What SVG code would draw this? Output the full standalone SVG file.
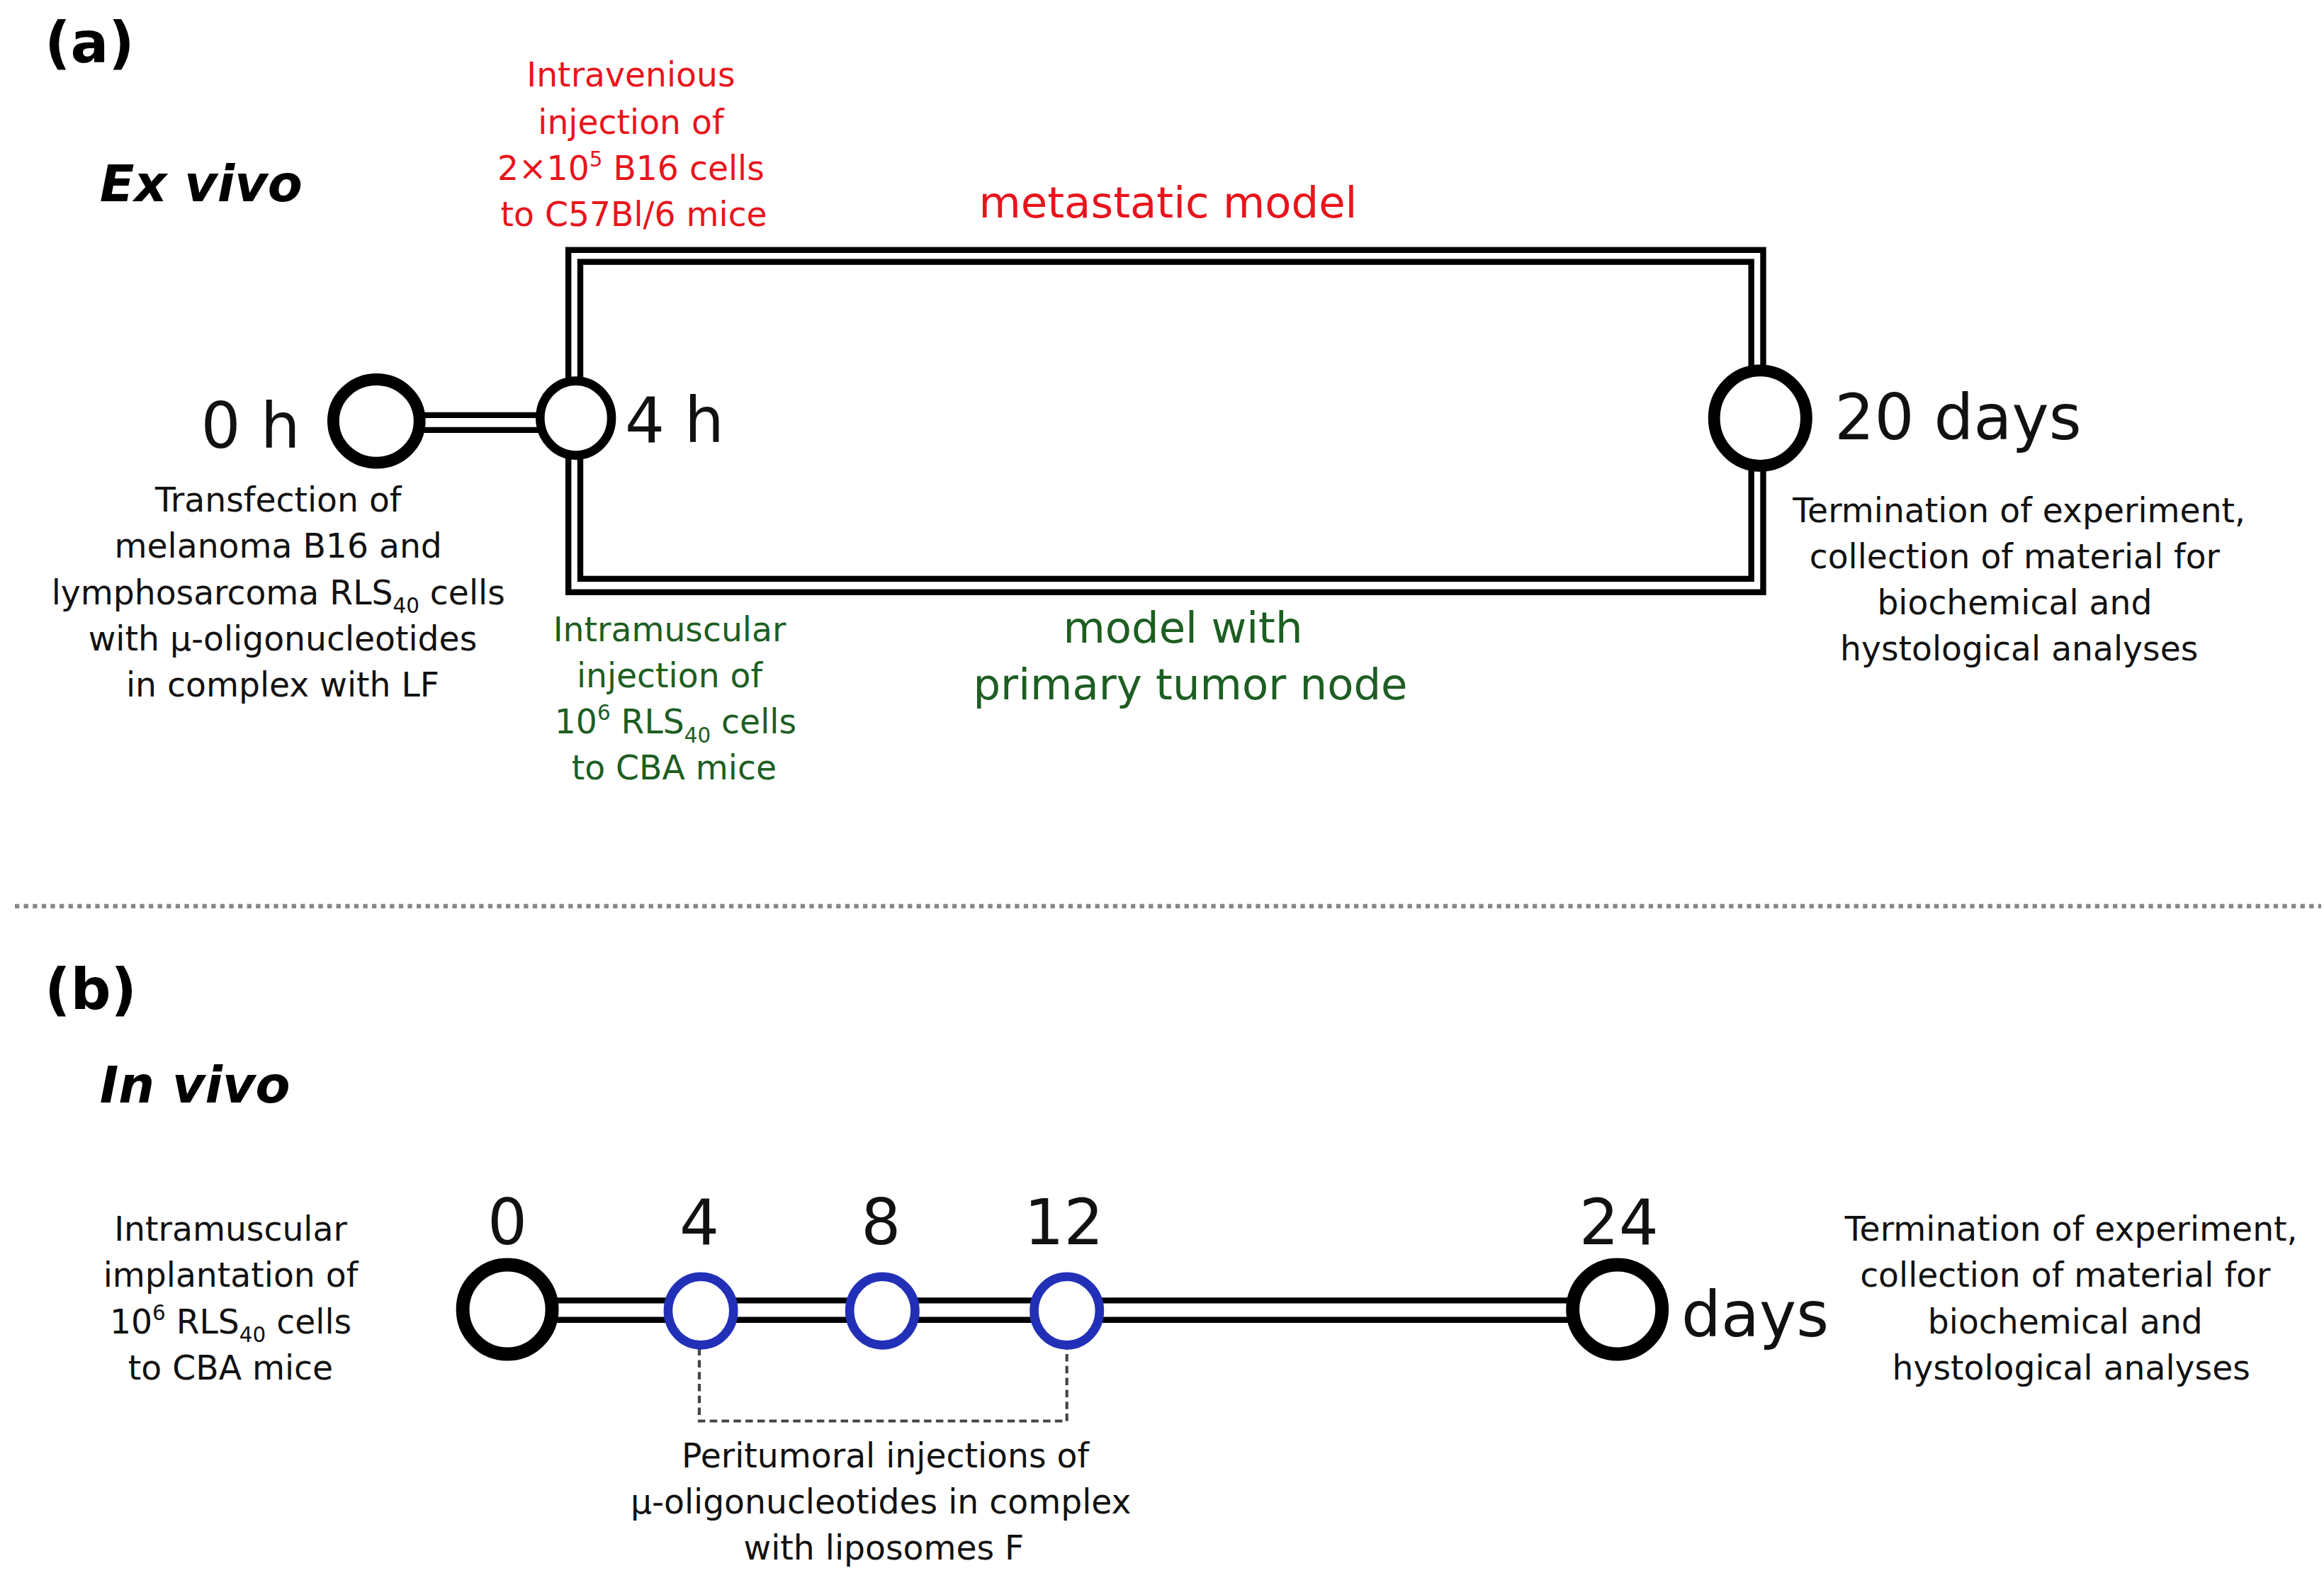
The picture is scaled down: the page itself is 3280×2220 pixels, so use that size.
<svg xmlns="http://www.w3.org/2000/svg" width="3280" height="2220" viewBox="0 0 3280 2220">
<style>
text{font-family:"DejaVu Sans","Liberation Sans",Arial,sans-serif}
.s{font-size:22.5px;text-anchor:middle}
.k{fill:#111}.r{fill:#e8141c}.g{fill:#1d5e22}
.big{font-size:42px}
.lab{font-size:38px;font-weight:bold}
.ti{font-size:34px;font-weight:bold;font-style:italic}
.ln{fill:none;stroke:#000;stroke-width:4}
.c{fill:#fff;stroke:#000}
.b{fill:#fff;stroke:#2230b8;stroke-width:6}
</style>
<rect width="3280" height="2220" fill="#fff"/>
<g transform="scale(2.1)">
<g id="connectors">
<rect class="ln" x="382" y="168" width="803" height="230"/>
<rect class="ln" x="390" y="176" width="787" height="213"/>
<line class="ln" x1="280" y1="279" x2="362" y2="279"/>
<line class="ln" x1="280" y1="289" x2="362" y2="289"/>
<line class="ln" x1="370" y1="874" x2="1060" y2="874"/>
<line class="ln" x1="370" y1="887" x2="1060" y2="887"/>
<path d="M470 906V955H717V906" fill="none" stroke="#444" stroke-width="2" stroke-dasharray="5,3"/>
<line x1="10" y1="609" x2="1560" y2="609" stroke="#888" stroke-width="3" stroke-dasharray="3,3"/>
</g>
<g id="labels">
<text x="30" y="42" class="lab">(a)</text>
<text x="67" y="135" class="ti">Ex vivo</text>
<text x="30" y="678" class="lab">(b)</text>
<text x="67" y="741" class="ti">In vivo</text>
</g>
<g id="n0h"><ellipse class="c" cx="253" cy="283" rx="29" ry="28" stroke-width="8"/><text x="135" y="301" class="big k">0 h</text>
<text class="s k" x="187" y="344">Transfection of</text><text class="s k" x="187" y="375">melanoma B16 and</text><text class="s k" x="187" y="406">lymphosarcoma RLS<tspan font-size="14" dy="6">40</tspan><tspan dy="-6"> cells</tspan></text><text class="s k" x="190" y="437">with μ-oligonucleotides</text><text class="s k" x="190" y="468">in complex with LF</text></g>
<g id="n4h"><ellipse class="c" cx="387" cy="281" rx="24" ry="25" stroke-width="6"/><text x="420" y="297" class="big k">4 h</text>
<text class="s r" x="424" y="58">Intravenious</text><text class="s r" x="424" y="90">injection of</text><text class="s r" x="424" y="121">2×10<tspan font-size="14" dy="-9">5</tspan><tspan dy="9"> B16 cells</tspan></text><text class="s r" x="426" y="152">to C57Bl/6 mice</text>
<text class="s g" x="450" y="431">Intramuscular</text><text class="s g" x="450" y="462">injection of</text><text class="s g" x="454" y="493">10<tspan font-size="14" dy="-9">6</tspan><tspan dy="9"> RLS</tspan><tspan font-size="14" dy="6">40</tspan><tspan dy="-6"> cells</tspan></text><text class="s g" x="453" y="524">to CBA mice</text></g>
<g id="models"><text x="785" y="146" font-size="29" text-anchor="middle" class="r">metastatic model</text>
<text x="795" y="432" font-size="29" text-anchor="middle" class="g">model with</text><text x="800" y="470" font-size="29" text-anchor="middle" class="g">primary tumor node</text></g>
<g id="n20d"><ellipse class="c" cx="1183" cy="281" rx="31" ry="32" stroke-width="8"/><text x="1233" y="295" class="big k">20 days</text>
<text class="s k" x="1357" y="351">Termination of experiment,</text><text class="s k" x="1354" y="382">collection of material for</text><text class="s k" x="1354" y="413">biochemical and</text><text class="s k" x="1357" y="444">hystological analyses</text></g>
<g id="d0"><ellipse class="c" cx="341" cy="880" rx="30" ry="30" stroke-width="9"/><text x="341" y="836" class="big k" text-anchor="middle">0</text>
<text class="s k" x="155" y="834">Intramuscular</text><text class="s k" x="155" y="865">implantation of</text><text class="s k" x="155" y="896">10<tspan font-size="14" dy="-9">6</tspan><tspan dy="9">  RLS</tspan><tspan font-size="14" dy="6">40</tspan><tspan dy="-6"> cells</tspan></text><text class="s k" x="155" y="927">to CBA mice</text></g>
<g id="d4"><ellipse class="b" cx="471" cy="881" rx="22" ry="23"/><text x="470" y="836" class="big k" text-anchor="middle">4</text></g>
<g id="d8"><ellipse class="b" cx="593" cy="881" rx="22" ry="23"/><text x="592" y="836" class="big k" text-anchor="middle">8</text></g>
<g id="d12"><ellipse class="b" cx="717" cy="881" rx="22" ry="23"/><text x="715" y="836" class="big k" text-anchor="middle">12</text>
<text class="s k" x="595" y="986">Peritumoral injections of</text><text class="s k" x="592" y="1017">μ-oligonucleotides in complex</text><text class="s k" x="594" y="1048">with liposomes F</text></g>
<g id="d24"><ellipse class="c" cx="1087" cy="880" rx="30" ry="30" stroke-width="9"/><text x="1088" y="836" class="big k" text-anchor="middle">24</text><text x="1130" y="898" class="big k">days</text>
<text class="s k" x="1392" y="834">Termination of experiment,</text><text class="s k" x="1388" y="865">collection of material for</text><text class="s k" x="1388" y="896">biochemical and</text><text class="s k" x="1392" y="927">hystological analyses</text></g>
</g>
</svg>
